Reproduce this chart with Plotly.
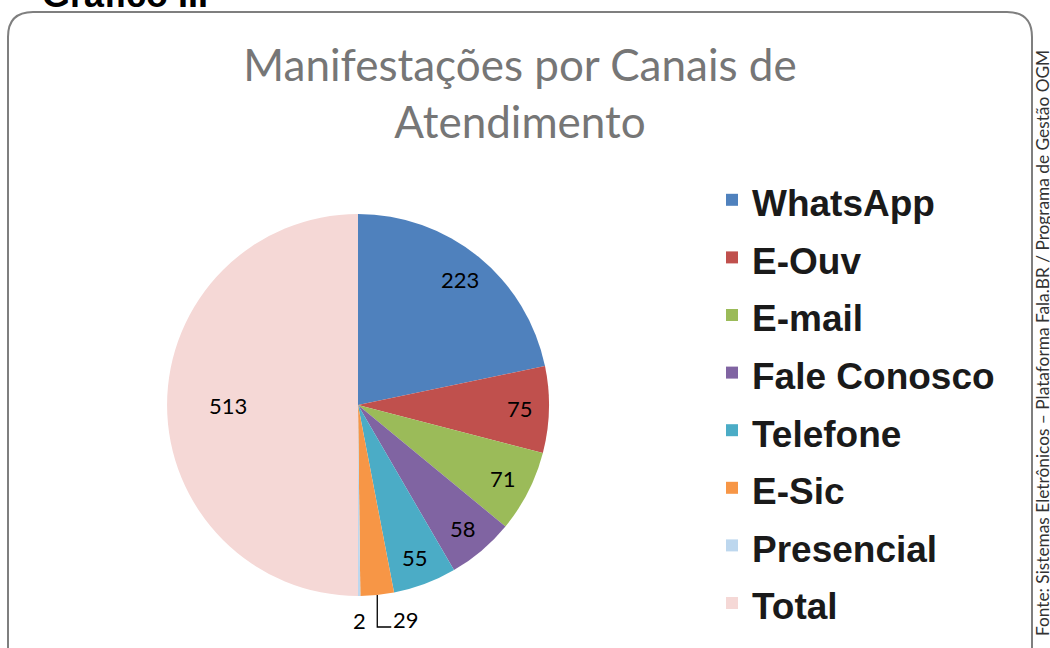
import math
import plotly.graph_objects as go

categories = ["WhatsApp", "E-Ouv", "E-mail", "Fale Conosco", "Telefone", "E-Sic", "Presencial", "Total"]
values = [223, 75, 71, 58, 55, 29, 2, 513]
colors = ["#4F81BD", "#C0504D", "#9BBB59", "#8064A2", "#4BACC6", "#F79646", "#BDD7EE", "#F5D8D6"]
title_text = "Manifestações por Canais de<br>Atendimento"
source_text = "Fonte: Sistemas Eletrônicos – Plataforma Fala.BR / Programa de Gestão OGM"
chart_label = "Gráfico III"

W, H = 1050, 648
# pie geometry (pixels from top-left)
CX, CY, R = 358, 405, 191
label_font = dict(family="Lato", size=22, color="black")

legend_labels = [f"<span style='font-size:37px'>{c}</span>" for c in categories]

fig = go.Figure(go.Pie(
    labels=legend_labels,
    values=values,
    sort=False,
    direction="clockwise",
    rotation=0,
    marker=dict(colors=colors, line=dict(width=0)),
    textinfo="none",
    hovertemplate=[f"{c}: %{{value}}<extra></extra>" for c in categories],
    domain=dict(x=[(CX - R) / W, (CX + R) / W], y=[1 - (CY + R) / H, 1 - (CY - R) / H]),
    showlegend=True,
))


def px_to_paper(x, y):
    return x / W, 1 - y / H


def label(text, x, y, xanchor="center"):
    return dict(text=text, x=x, y=y, xref="paper", yref="paper", xanchor=xanchor,
                yanchor="middle", showarrow=False, font=label_font)


annotations = []
shapes = []
total = sum(values)
cum = 0
outside = []
for i, v in enumerate(values):
    share = v / total
    ang = math.radians((cum + v / 2) / total * 360)
    cum += v
    if share < 0.04:
        outside.append((i, v, ang))
        continue
    f = 0.68 if share > 0.4 else 0.85
    x, y = px_to_paper(CX + f * R * math.sin(ang), CY - f * R * math.cos(ang))
    annotations.append(label(str(v), x, y))

# small slices: first gets an elbow leader line, last sits right below the pie
for k, (i, v, ang) in enumerate(outside):
    ex, ey = CX + R * math.sin(ang), CY - R * math.cos(ang)
    if k < len(outside) - 1:
        by = CY + R + 31
        p0 = px_to_paper(ex, ey)
        p1 = px_to_paper(ex, by)
        p2 = px_to_paper(ex + 14, by)
        shapes.append(dict(type="path", xref="paper", yref="paper",
                           path=f"M {p0[0]},{p0[1]} L {p1[0]},{p1[1]} L {p2[0]},{p2[1]}",
                           line=dict(color="black", width=1.3)))
        x, y = px_to_paper(ex + 14, CY + R + 23)
        annotations.append(label(str(v), x, y, xanchor="left"))
    else:
        x, y = px_to_paper(CX + (R + 25) * math.sin(ang), CY - (R + 25) * math.cos(ang))
        annotations.append(label(str(v), x, y))

# rounded frame
shapes.append(dict(type="path", xref="paper", yref="paper",
                   path=(f"M {8/W},{1-37/H} Q {8/W},{1-12/H} {33/W},{1-12/H} "
                         f"L {1007/W},{1-12/H} Q {1032/W},{1-12/H} {1032/W},{1-37/H} "
                         f"L {1032/W},{1-680/H} L {8/W},{1-680/H} Z"),
                   line=dict(color="#7f7f7f", width=2), fillcolor="rgba(0,0,0,0)", layer="below"))

annotations += [
    dict(text=f"<b>{chart_label}</b>", xref="paper", yref="paper", x=40 / W, xanchor="left",
         y=1 - 17 / H, yanchor="bottom", showarrow=False,
         font=dict(family="Liberation Sans", size=36, color="black")),
    dict(text=source_text, xref="paper", yref="paper", x=1042 / W, xanchor="center",
         y=1 - 343 / H, yanchor="middle", textangle=-90, showarrow=False,
         font=dict(family="Lato", size=17.3, color="#333333")),
]

fig.update_layout(
    width=W, height=H,
    margin=dict(l=0, r=0, t=0, b=0),
    paper_bgcolor="white",
    title=dict(text=title_text, x=520 / W, xanchor="center", y=1 - 81 / H, yanchor="top",
               font=dict(family="Lato", size=44, color="#767676")),
    legend=dict(x=712 / W, xanchor="left", y=1 - 166 / H, yanchor="top",
                font=dict(family="Liberation Sans", size=42, color="#1a1a1a", weight="bold"),
                bgcolor="rgba(0,0,0,0)"),
    shapes=shapes,
    annotations=annotations,
)

fig.write_html("out.html", config={"displayModeBar": False},
               post_script="document.body.style.margin='0';")
